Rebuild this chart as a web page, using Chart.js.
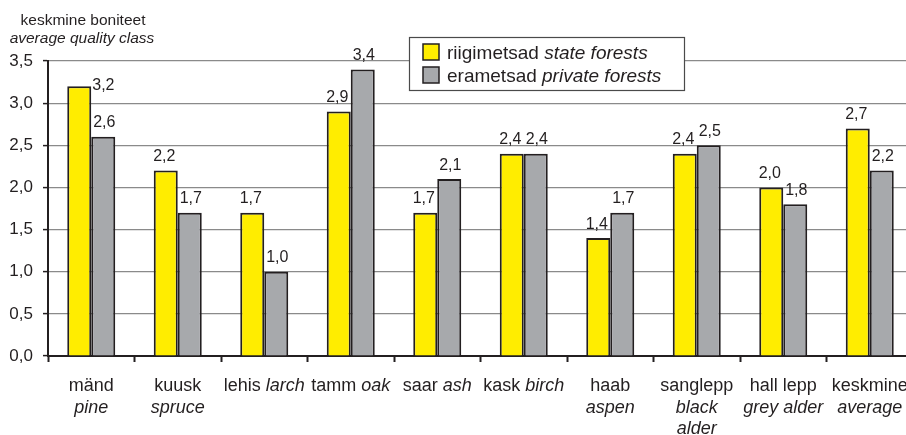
<!DOCTYPE html>
<html>
<head>
<meta charset="utf-8">
<script src="https://cdn.jsdelivr.net/npm/chart.js@4/dist/chart.umd.min.js"></script>
<style>
  html, body { margin: 0; padding: 0; background: #fff; overflow: hidden; }
  #wrap { width: 906px; height: 435px; overflow: hidden; }
  canvas { display: block; }
</style>
</head>
<body>
<div id="wrap"><canvas id="c" width="920" height="435" style="width:920px;height:435px"></canvas></div>
<script>
// ---- data ----
const categoriesEt = ['mänd', 'kuusk', 'lehis', 'tamm', 'saar', 'kask', 'haab', 'sanglepp', 'hall lepp', 'keskmine'];
const categoriesEn = ['pine', 'spruce', 'larch', 'oak', 'ash', 'birch', 'aspen', 'black alder', 'grey alder', 'average'];
const stateForests   = [3.2, 2.2, 1.7, 2.9, 1.7, 2.4, 1.4, 2.4, 2.0, 2.7];
const privateForests = [2.6, 1.7, 1.0, 3.4, 2.1, 2.4, 1.7, 2.5, 1.8, 2.2];
const seriesEt = ['riigimetsad', 'erametsad'];
const seriesEn = ['state forests', 'private forests'];
const yAxisTitleEt = 'keskmine boniteet';
const yAxisTitleEn = 'average quality class';
const yMin = 0, yMax = 3.5, yStep = 0.5;

const FONT = '"Liberation Sans", Arial, Helvetica, sans-serif';
const TEXT = '#231f20';
const YELLOW = '#ffed00';
const GREY = '#a7a9ac';
const fmt = v => v.toFixed(1).replace('.', ',');

// value labels above bars
const valueLabels = {
  id: 'valueLabels',
  afterDatasetsDraw(chart) {
    const ctx = chart.ctx;
    ctx.save();
    ctx.font = '16px ' + FONT;
    ctx.fillStyle = TEXT;
    chart.data.datasets.forEach((ds, di) => {
      const meta = chart.getDatasetMeta(di);
      meta.data.forEach((bar, i) => {
        const v = ds.data[i];
        ctx.textBaseline = 'alphabetic';
        if (di === 0 && i === 0) {
          // first label sits beside the bar top, to its right
          ctx.textAlign = 'left';
          ctx.fillText(fmt(v), bar.x + bar.width / 2 + 1, bar.y + 3.5);
        } else {
          ctx.textAlign = 'center';
          ctx.fillText(fmt(v), bar.x + (di === 0 ? -1.5 : 1), bar.y - 9.5);
        }
      });
    });
    ctx.restore();
  }
};

// category labels (Estonian regular + English italic, word-wrapped)
const categoryLabels = {
  id: 'categoryLabels',
  afterDraw(chart) {
    const ctx = chart.ctx;
    const xs = chart.scales.x;
    const catW = xs.width / categoriesEt.length;
    const maxW = catW * 0.95;
    const reg = '18px ' + FONT, ita = 'italic 18px ' + FONT;
    ctx.save();
    ctx.fillStyle = TEXT;
    ctx.textBaseline = 'alphabetic';
    ctx.textAlign = 'left';
    ctx.font = reg;
    const spaceW = ctx.measureText(' ').width;
    const tokW = tk => { ctx.font = tk.italic ? ita : reg; return ctx.measureText(tk.t).width; };
    categoriesEt.forEach((et, i) => {
      const tokens = et.split(' ').map(t => ({ t, italic: false }))
        .concat(categoriesEn[i].split(' ').map(t => ({ t, italic: true })));
      const lines = [];
      let cur = [], curW = 0;
      tokens.forEach(tk => {
        const w = tokW(tk);
        const nw = cur.length ? curW + spaceW + w : w;
        if (cur.length && nw > maxW) { lines.push({ toks: cur, w: curW }); cur = [tk]; curW = w; }
        else { cur.push(tk); curW = nw; }
      });
      if (cur.length) lines.push({ toks: cur, w: curW });
      const cx = xs.getPixelForValue(i);
      lines.forEach((ln, li) => {
        let x = cx - ln.w / 2;
        const y = xs.top + 35 + li * 21.5;
        ln.toks.forEach((tk, k) => {
          if (k > 0) x += spaceW;
          ctx.font = tk.italic ? ita : reg;
          ctx.fillText(tk.t, x, y);
          x += ctx.measureText(tk.t).width;
        });
      });
    });
    // y axis title
    ctx.textAlign = 'center';
    ctx.font = '15.5px ' + FONT;
    ctx.fillText(yAxisTitleEt, 83, 25);
    ctx.font = 'italic 15.5px ' + FONT;
    ctx.fillText(yAxisTitleEn, 82, 43);
    ctx.restore();
  }
};

// legend box
const legendBox = {
  id: 'legendBox',
  afterDraw(chart) {
    const ctx = chart.ctx;
    const area = chart.chartArea;
    const left = area.left + 361, top = 37, w = 275, h = 53;
    const colors = [YELLOW, GREY];
    ctx.save();
    ctx.fillStyle = '#fff';
    ctx.fillRect(left, top, w, h);
    ctx.strokeStyle = '#4a4a4a';
    ctx.lineWidth = 1.2;
    ctx.strokeRect(left + 0.5, top + 0.5, w, h);
    ctx.textBaseline = 'alphabetic';
    ctx.textAlign = 'left';
    seriesEt.forEach((name, k) => {
      const sy = top + 7 + k * 23;
      ctx.fillStyle = colors[k];
      ctx.fillRect(left + 14, sy, 16, 16);
      ctx.strokeStyle = TEXT;
      ctx.lineWidth = 1.5;
      ctx.strokeRect(left + 14, sy, 16, 16);
      ctx.fillStyle = TEXT;
      let x = left + 38;
      const by = top + 22 + k * 23;
      ctx.font = '19px ' + FONT;
      ctx.fillText(name + ' ', x, by);
      x += ctx.measureText(name + ' ').width;
      ctx.font = 'italic 19px ' + FONT;
      ctx.fillText(seriesEn[k], x, by);
    });
    ctx.restore();
  }
};

new Chart(document.getElementById('c'), {
  type: 'bar',
  data: {
    labels: categoriesEt,
    datasets: [
      { label: seriesEt[0], data: stateForests, backgroundColor: YELLOW, borderColor: TEXT, borderWidth: 2,
        categoryPercentage: 0.555, barPercentage: 1.0 },
      { label: seriesEt[1], data: privateForests, backgroundColor: GREY, borderColor: TEXT, borderWidth: 2,
        categoryPercentage: 0.555, barPercentage: 1.0 }
    ]
  },
  options: {
    responsive: false,
    animation: false,
    devicePixelRatio: 1,
    layout: { padding: { top: 61, right: 7, left: 0, bottom: 0 } },
    plugins: { legend: { display: false }, tooltip: { enabled: false }, title: { display: false } },
    scales: {
      x: {
        offset: true,
        grid: { offset: true, drawOnChartArea: false, drawTicks: true, tickLength: 6, tickColor: TEXT, tickWidth: 2 },
        border: { display: true, color: TEXT, width: 2 },
        ticks: { display: false },
        afterFit(scale) { scale.height = 79; }
      },
      y: {
        min: yMin, max: yMax,
        ticks: { stepSize: yStep, padding: 10, color: TEXT, font: { family: FONT, size: 17 }, callback: v => fmt(v) },
        grid: { color: '#8a8a8a', lineWidth: 1.2, tickColor: TEXT, tickLength: 5, tickWidth: 1.5, drawTicks: true },
        border: { display: true, color: TEXT, width: 2 },
        afterFit(scale) { scale.width = 48; }
      }
    }
  },
  plugins: [valueLabels, categoryLabels, legendBox]
});
</script>
</body>
</html>
